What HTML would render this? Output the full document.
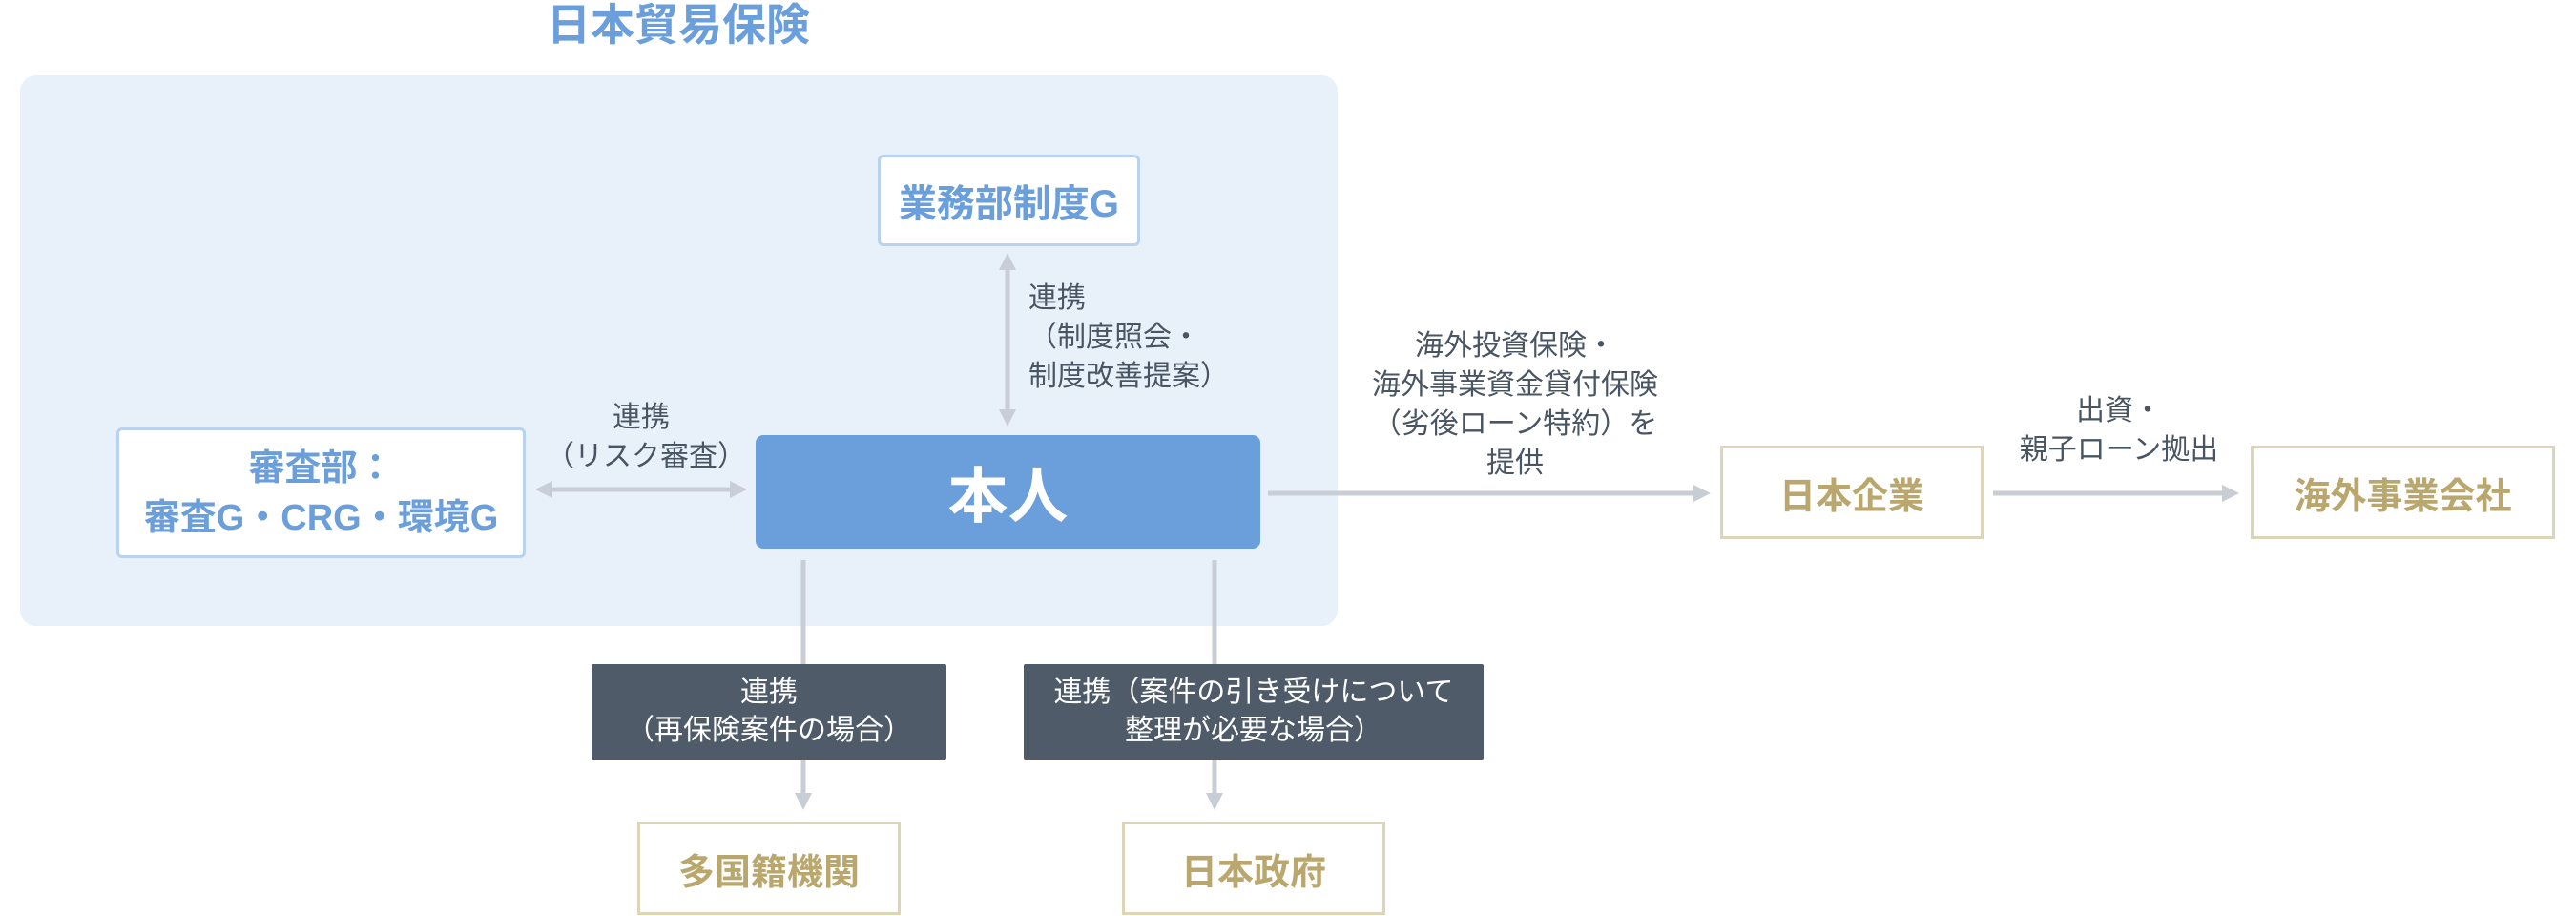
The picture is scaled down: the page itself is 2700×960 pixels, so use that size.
<!DOCTYPE html>
<html><head><meta charset="utf-8"><style>
body{margin:0;width:2700px;height:960px;background:#fff;position:relative;overflow:hidden;font-family:"Liberation Sans","Noto Sans CJK JP",sans-serif}
.a{position:absolute;box-sizing:border-box;display:flex;align-items:center;justify-content:center;text-align:center}
.t{position:absolute;color:#4a5563;font-size:30px;line-height:41px;text-align:center;white-space:nowrap}
.blue{background:#fff;border:3px solid #b8d2f0;color:#6a9fdb;font-weight:bold;border-radius:6px}
.gold{background:#fff;border:3px solid #ddd5b8;color:#b9a76e;font-weight:bold;font-size:38px}
.dark{background:#4f5b69;color:#fff;font-size:30px;line-height:40px;border-radius:2px;white-space:nowrap}
</style></head><body>
<div class="t" style="left:461px;top:-2px;width:500px;font-size:46px;line-height:56px;color:#6a9fdb;font-weight:bold">日本貿易保険</div>
<div class="a" style="left:21px;top:79px;width:1381px;height:577px;background:#e8f0fa;border-radius:17px"></div>
<div class="a blue" style="left:920px;top:162px;width:275px;height:96px;font-size:40px">業務部制度G</div>
<div class="a blue" style="left:122px;top:448px;width:429px;height:137px;font-size:38px;line-height:52px">審査部：<br>審査G・CRG・環境G</div>
<div class="a" style="left:792px;top:456px;width:529px;height:119px;background:#6a9fdb;border-radius:8px;color:#fff;font-size:63px;font-weight:bold">本人</div>
<svg style="position:absolute;left:0;top:0" width="2700" height="960">
<g stroke="#c9ced6" stroke-width="5" fill="#c9ced6">
<line x1="1056" y1="280" x2="1056" y2="432"/>
<polygon points="1056,265 1047,283 1065,283" stroke="none"/>
<polygon points="1056,447 1047,429 1065,429" stroke="none"/>
<line x1="576" y1="513" x2="768" y2="513"/>
<polygon points="561,513 579,504 579,522" stroke="none"/>
<polygon points="783,513 765,504 765,522" stroke="none"/>
<line x1="1329" y1="517" x2="1778" y2="517"/>
<polygon points="1793,517 1775,508 1775,526" stroke="none"/>
<line x1="2089" y1="517" x2="2332" y2="517"/>
<polygon points="2347,517 2329,508 2329,526" stroke="none"/>
<line x1="842" y1="587" x2="842" y2="834"/>
<polygon points="842,849 833,831 851,831" stroke="none"/>
<line x1="1273" y1="587" x2="1273" y2="834"/>
<polygon points="1273,849 1264,831 1282,831" stroke="none"/>
</g></svg>
<div class="t" style="left:1078px;top:292px;text-align:left">連携<br>（制度照会・<br>制度改善提案）</div>
<div class="t" style="left:572px;top:417px;width:200px">連携<br>（リスク審査）</div>
<div class="t" style="left:1388px;top:342px;width:400px">海外投資保険・<br>海外事業資金貸付保険<br>（劣後ローン特約）を<br>提供</div>
<div class="t" style="left:2071px;top:410px;width:300px">出資・<br>親子ローン拠出</div>
<div class="a gold" style="left:1803px;top:467px;width:276px;height:98px">日本企業</div>
<div class="a gold" style="left:2359px;top:467px;width:319px;height:98px">海外事業会社</div>
<div class="a dark" style="left:620px;top:696px;width:372px;height:100px">連携<br>（再保険案件の場合）</div>
<div class="a dark" style="left:1073px;top:696px;width:482px;height:100px">連携（案件の引き受けについて<br>整理が必要な場合）</div>
<div class="a gold" style="left:668px;top:861px;width:276px;height:98px">多国籍機関</div>
<div class="a gold" style="left:1176px;top:861px;width:276px;height:98px">日本政府</div>
</body></html>
